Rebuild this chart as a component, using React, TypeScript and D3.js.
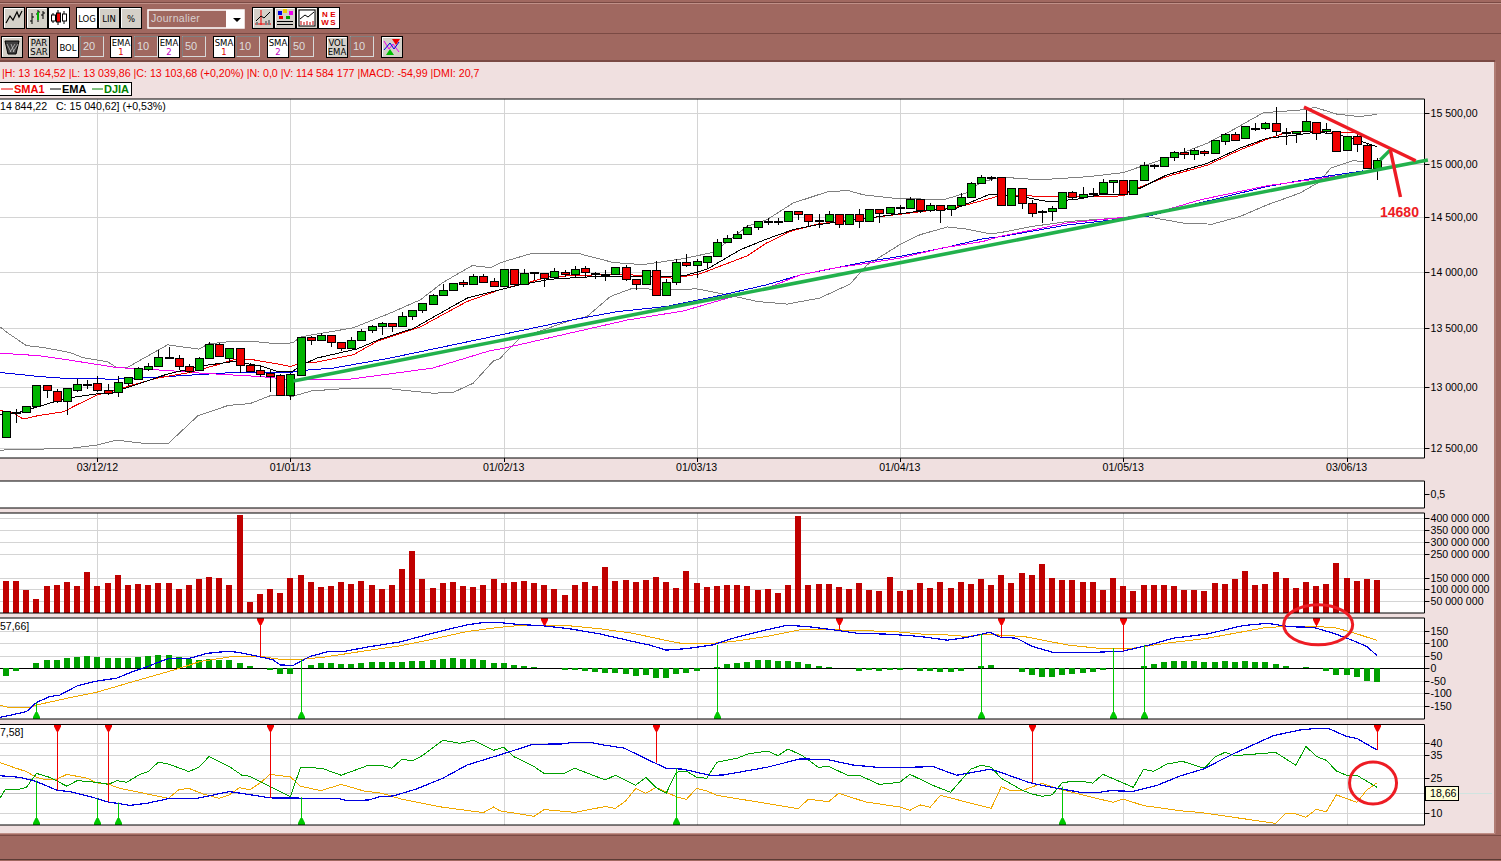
import React from 'react';
import * as d3 from 'd3';

// candles, one per trading day
const opens = [12592,12790,12792,12840,13015,12965,12882,12978,13021,13030,12973,12956,13030,13068,13152,13172,13250,13242,13172,13138,13240,13360,13247,13325,13188,13138,13115,13098,12936,13104,13421,13396,13438,13379,13333,13396,13485,13516,13542,13516,13605,13658,13715,13789,13834,13905,13887,13958,13913,13872,14023,13887,13987,13989,13949,13998,13975,14029,13984,13972,13981,14038,13931,13887,14011,13789,13904,14085,14062,14090,14140,14265,14300,14340,14405,14460,14460,14460,14553,14525,14460,14466,14525,14433,14525,14460,14572,14535,14586,14580,14670,14560,14615,14572,14615,14682,14818,14875,14874,14610,14770,14630,14544,14553,14582,14730,14686,14714,14720,14830,14846,14714,14846,14988,14978,15065,15115,15095,15127,15105,15219,15291,15252,15350,15350,15399,15312,15300,15317,15409,15320,15326,15134,15268,15183,14965];
const closes = [12800,12785,12840,13015,12975,12880,12990,13022,13025,12973,12948,13038,13080,13155,13172,13250,13245,13172,13135,13242,13360,13260,13325,13188,13135,13110,13090,12936,13105,13421,13396,13440,13384,13333,13396,13474,13516,13542,13516,13605,13655,13720,13789,13834,13900,13887,13958,13910,13869,14023,13887,13984,13993,13945,14002,13975,14026,13993,13989,13978,14038,13931,13887,14011,13789,13904,14085,14062,14094,14140,14268,14305,14340,14405,14460,14463,14463,14553,14525,14460,14470,14525,14433,14525,14460,14572,14535,14590,14590,14670,14560,14615,14565,14615,14682,14815,14880,14870,14610,14770,14630,14540,14553,14582,14730,14686,14714,14720,14827,14846,14714,14846,14988,14978,15065,15115,15095,15133,15105,15232,15291,15235,15370,15356,15399,15320,15309,15317,15418,15307,15340,15124,15268,15193,14965,15040.62];
const highs = [12800,12820,12840,13015,13015,12982,12990,13068,13058,13090,13025,13090,13080,13170,13197,13310,13335,13268,13190,13250,13378,13368,13325,13325,13202,13178,13147,13105,13120,13421,13435,13455,13438,13379,13421,13494,13530,13550,13542,13645,13655,13720,13800,13889,13900,13925,13975,13975,13945,14023,14023,14023,13993,13989,14029,14014,14050,14050,13997,14014,14045,14060,13931,14011,14096,13931,14112,14160,14110,14140,14295,14328,14365,14425,14460,14494,14490,14553,14553,14525,14525,14553,14525,14525,14572,14572,14572,14590,14612,14686,14670,14630,14615,14615,14720,14830,14895,14885,14874,14770,14770,14660,14565,14604,14730,14740,14780,14770,14855,14846,14846,14846,15019,15000,15065,15127,15155,15155,15135,15232,15307,15314,15370,15405,15412,15558,15356,15325,15529,15409,15405,15326,15268,15300,15195,15060];
const lows = [12592,12705,12792,12840,12905,12867,12765,12960,12983,12960,12935,12920,13008,13068,13135,13172,13235,13140,13118,13138,13240,13260,13213,13118,13130,13080,12960,12925,12888,13104,13358,13387,13341,13300,13333,13387,13460,13440,13468,13516,13570,13628,13715,13789,13834,13865,13887,13898,13869,13872,13887,13887,13925,13857,13949,13949,13954,13949,13931,13913,13981,13916,13836,13887,13789,13789,13880,14044,13945,14029,14140,14265,14300,14340,14380,14420,14420,14460,14475,14405,14396,14455,14393,14433,14397,14460,14447,14535,14540,14580,14535,14543,14440,14505,14615,14682,14818,14840,14610,14610,14570,14503,14447,14465,14582,14660,14663,14690,14720,14725,14714,14714,14846,14950,14978,15025,15047,15035,15077,15105,15180,15225,15252,15326,15333,15277,15186,15209,15317,15235,15291,15124,15134,15115,14955,14844.22];

// price overlays, as [day index, value]
const upperBand: [number, number][] = [[-0.6,13512],[0.2,13457],[2,13350],[3.7,13333],[6.3,13290],[7.6,13246],[10,13212],[10.9,13163],[11.9,13161],[15.9,13356],[19,13319],[19.9,13364],[22.4,13387],[24.2,13387],[26.7,13364],[28.2,13373],[29.1,13426],[34.2,13503],[37.8,13630],[40.8,13748],[43,13901],[45.9,14053],[47.7,14035],[48.6,14075],[49.6,14105],[51.9,14167],[53.6,14167],[56.5,14160],[59.8,14081],[62.7,14062],[66.4,14112],[69.6,14172],[73,14412],[74.9,14472],[77.5,14629],[80.8,14733],[82.9,14748],[84.4,14707],[87.3,14676],[92.3,14660],[94.6,14726],[95.9,14820],[96.9,14849],[97.9,14875],[101.8,14849],[106.7,14880],[110,14918],[111.7,14975],[115.3,15088],[118.3,15203],[120.8,15333],[123.8,15503],[127.4,15529],[128.9,15556],[131,15490],[133.3,15464],[135,15487]];
const lowerBand: [number, number][] = [[-0.6,12483],[6.3,12497],[9,12524],[10.9,12563],[13.5,12538],[16,12538],[18.9,12762],[21.9,12847],[24,12861],[26,12926],[28.3,12924],[30.1,12967],[33.9,12989],[37.8,12984],[42,12948],[44,12953],[46,13031],[48,13220],[48.6,13237],[50.6,13415],[55.7,13571],[57.2,13600],[59.5,13777],[61.7,13851],[65,13836],[68,13845],[71,13792],[74,13733],[76.9,13710],[80.1,13763],[83.1,13887],[84.8,14060],[88,14243],[90,14335],[92.7,14406],[94.6,14387],[96.9,14342],[97.9,14354],[101.1,14412],[104.5,14456],[107.7,14478],[112.3,14503],[116.3,14436],[118.8,14433],[121.5,14503],[124.2,14613],[127.4,14723],[129.4,14833],[130.4,14959],[132.6,15032],[134,15023]];
const ema50: [number, number][] = [[-0.6,13121],[3.3,13087],[6,13070],[10.9,13065],[15.9,13087],[22.4,13121],[28,13121],[29.1,13138],[32.2,13158],[37.8,13243],[48.6,13440],[55.7,13571],[60.2,13644],[65,13689],[69.6,13772],[74.9,13881],[78.2,13969],[84.8,14090],[88,14136],[92.3,14213],[96.2,14298],[97.9,14316],[104.5,14425],[112.6,14509],[117.6,14632],[124.2,14786],[129,14868],[133.6,14934]];
const sma50: [number, number][] = [[-0.6,13285],[3.3,13263],[6,13229],[10.9,13163],[15.9,13138],[19.1,13116],[25,13087],[28.3,13059],[33.9,13065],[42,13158],[47.7,13307],[48.6,13319],[61.2,13571],[66.7,13650],[71.6,13777],[74.5,13836],[78.2,13969],[81.4,14029],[84.8,14075],[88,14121],[92.3,14215],[96.2,14273],[97.9,14319],[104.5,14443],[112.6,14519],[117.6,14660],[124.2,14793],[130.7,14880],[134,14925]];
const sma10: [number, number][] = [[-0.6,12806],[0.7,12784],[1.7,12735],[3.3,12765],[5.6,12793],[7,12852],[9,12934],[10.2,12957],[12.5,13017],[14.9,13074],[18.1,13121],[20.8,13186],[22.4,13229],[24.3,13229],[26.3,13200],[28,13172],[29.1,13200],[30.6,13209],[34.2,13271],[36.5,13384],[40.8,13511],[45.4,13733],[48.6,13836],[53.6,13954],[57.8,13969],[61.7,13969],[65.7,13940],[68.3,13978],[73,14142],[74.9,14259],[77.2,14365],[79.9,14433],[84.8,14488],[89.7,14544],[94,14597],[97.6,14691],[99.9,14707],[101.5,14691],[104.5,14691],[108.7,14691],[110,14698],[111,14755],[114.3,14880],[118.3,14990],[121.5,15137],[124.2,15242],[126.1,15311],[128.9,15317],[133,15304]];
const ema10: [number, number][] = [[-0.6,12770],[1.1,12784],[2.7,12825],[6,12907],[9,12943],[10.5,12953],[13.2,13031],[15.9,13108],[19.4,13178],[22.4,13214],[25,13178],[26.7,13130],[28.2,13130],[29.2,13186],[30.6,13243],[34.6,13322],[36.8,13404],[40.1,13497],[45.4,13763],[48.6,13836],[50.6,13881],[53.6,13931],[57.8,13954],[63.4,13954],[66.7,13960],[69,14020],[72.3,14197],[74.9,14295],[77.5,14381],[79.9,14427],[84.8,14488],[89.7,14550],[93.6,14582],[96.9,14714],[97.6,14707],[99.9,14691],[102.8,14639],[105.5,14667],[107.7,14707],[109.7,14714],[111.7,14771],[114.3,14896],[118.3,15007],[121.5,15154],[124.2,15252],[126.4,15274],[129,15311],[131,15291],[133.5,15218],[135,15169]];

// hand-drawn trend lines and the target label, in [day index, price]
const supportLine: [number, number][] = [[28.3,13050],[140,15040]];
const resistanceLine: [number, number][] = [[127.8,15559],[138.8,15032]];
const bounceLine: [number, number][] = [[135.3,15040],[136.3,15137]];
const targetLine: [number, number][] = [[136.3,15137],[137.3,14686]];

// volume in millions
const volumes = [136,136,98,60,115,120,132,115,174,115,128,162,120,124,120,128,128,103,120,145,153,149,120,415,48,82,103,86,149,162,132,111,115,132,124,136,120,103,120,187,263,145,107,128,132,115,111,120,145,128,132,136,128,120,103,77,120,132,115,195,136,141,132,141,153,132,107,179,128,111,115,120,120,115,98,103,86,120,410,120,124,124,111,103,128,98,94,153,94,98,128,107,132,107,132,124,145,120,162,128,170,162,208,149,141,141,132,132,98,149,115,94,120,120,120,115,98,98,94,128,124,145,179,120,124,174,149,107,132,115,124,212,149,136,145,141];

// MACD pane
const macdHist = [-30,-13,0,21,34,34,42,46,50,46,42,42,42,46,50,54,54,46,38,34,38,34,34,21,9,0,-7,-23,-23,0,13,21,21,17,17,21,26,26,26,26,30,30,34,38,42,38,38,34,21,21,13,9,5,0,0,-7,-7,-11,-15,-19,-19,-23,-31,-27,-39,-39,-23,-19,-11,0,5,17,21,26,34,34,30,30,26,17,9,5,0,0,-11,-7,-11,-7,-7,0,-11,-11,-15,-15,-11,0,9,13,0,0,-15,-27,-35,-35,-27,-23,-19,-15,-7,0,0,0,9,17,26,30,30,30,26,26,30,26,30,26,26,17,9,0,5,0,-11,-27,-27,-35,-51,-54.99];
const macdLine: [number, number][] = [[-0.6,-198],[2,-175],[3,-138],[4.3,-114],[5.3,-108],[7,-71],[8.9,-52],[10.9,-40],[12.5,-13],[13.5,0],[15.2,27],[16.1,40],[18.1,40],[19.8,60],[22,69],[23.4,60],[25,46],[26.3,34],[27,13],[28.3,12],[29.9,47],[31.9,69],[33.5,69],[35.5,85],[38.8,106],[42,141],[45.4,175],[47,184],[48.6,184],[50.6,176],[52.9,171],[55.5,159],[58.5,138],[61.7,108],[63.4,93],[65,73],[67,79],[69.6,94],[71.6,121],[74.9,155],[76.9,173],[78.9,168],[81.4,155],[83.8,141],[87,137],[90,128],[92.7,113],[94.6,124],[96.9,145],[97.9,125],[99.5,121],[101.1,87],[103,65],[107.7,65],[110,69],[112.6,94],[114.9,121],[118.3,138],[121.8,172],[124.2,181],[126.4,167],[128.7,165],[130.7,141],[132.6,112],[134,87],[135,51]];
const macdSignal: [number, number][] = [[-0.6,-149],[0.4,-159],[2.4,-157],[3,-148],[6,-121],[8.9,-97],[12.5,-54],[16.8,-4],[19.1,27],[22.4,48],[25,48],[27,36],[29,36],[31.2,44],[35.5,71],[38.8,90],[42,117],[45.4,148],[48.6,165],[50.6,172],[55.2,172],[58.5,159],[61.7,141],[65,112],[66.4,101],[69,98],[71.6,108],[74.9,128],[78.2,155],[80.5,157],[83.4,152],[87.4,148],[90,138],[92.7,134],[94.6,128],[96.9,138],[97.9,133],[100.2,128],[104.5,94],[107.4,81],[111,81],[114.3,101],[118.3,121],[124.2,165],[127.4,169],[130.7,165],[132.6,144],[135,112]];
const macdSells: [number, number][] = [[25,46],[53,171],[82,155],[98,125],[110,69],[129,165]];
const macdBuys: [number, number][] = [[3,-138],[29,36],[70,94],[96,138],[109,81],[112,94]];

// DMI pane
const adxLine: [number, number][] = [[-0.6,26.1],[1.4,25.4],[3,23.6],[5,19.9],[6.3,19.3],[8.9,16.4],[10,14.9],[12.2,13.4],[13.9,14.3],[16.1,16.4],[18.8,16.4],[22,19.3],[23.4,18.4],[26,16.6],[32.6,16.4],[33.7,15.4],[35.7,15.7],[36.8,17.1],[38.1,17.4],[40.4,20.4],[43,25],[45.4,30.7],[48.6,35],[51.9,39.6],[54.7,39.7],[55.8,40.4],[57.5,40.4],[58.8,39.3],[60.9,37.9],[62.7,34],[65,29.3],[66.7,28.9],[69.3,26.3],[70.6,26.4],[74.9,29.7],[78.2,33.3],[80.8,33.1],[83.4,30.7],[85.8,29.7],[88.7,29.7],[91.3,30],[93.6,26.3],[96.9,28.9],[97.9,27.6],[100.8,23.1],[103.1,21],[105.8,19],[107.7,19],[108.7,19.7],[111,19.4],[113.3,21.9],[115.6,26],[117.9,29],[120.8,35.4],[124.8,43.3],[127.4,45.7],[129,46.4],[130.2,46.4],[132,42.9],[133,42.1],[135,37.1]];
const diPlus: [number, number][] = [[-0.6,16.4],[-0.1,20.1],[1,20],[2,21.1],[3,27.1],[4.3,25.4],[6,21.6],[7,24],[8.9,23.3],[10.1,22.4],[10.9,24],[11.9,23.3],[13.2,26.7],[14,27.9],[15,31.9],[16,31.1],[18,27.9],[19,29.7],[20,34.4],[22,30],[23.2,26.4],[24,25.9],[28,17.1],[29,29.7],[31.1,29.3],[33,26.3],[35.5,30.3],[37,30.6],[38,29.3],[39,33.3],[40,32.4],[41.1,35],[43,41.3],[44.7,40],[46,41.3],[48,37],[49,38.3],[50,34.3],[52,30],[53,27],[55,27.1],[56,29.3],[59,24.3],[60,26.3],[62,22],[63,25.4],[64,21],[65,18.6],[66,27.6],[67,28.1],[68,25.4],[69,25],[70,31.9],[72,33.6],[73,35.4],[75,36.7],[76,34.7],[77,37.6],[78.4,34.7],[80,29.7],[81,30.1],[82.8,26.4],[84,26.3],[86,22.4],[88,23.3],[89,26.7],[91.3,21.9],[93,19],[95,28.9],[96,30.6],[97,29.7],[98,25],[100,20],[101,18.3],[102,17.3],[103,17.9],[104,23.1],[105,23.7],[106,23.7],[107,22.9],[108,26.7],[111,21.1],[112,28.9],[113,28],[114.3,31.1],[115.8,32.3],[118,29.3],[119,34],[120,36.1],[121,34.7],[125,36.1],[127,30.6],[128,38.7],[129,34.4],[130,32.7],[131,28.1],[132,26.3],[133,26.3],[135,21.1]];
const diMinus: [number, number][] = [[-0.6,31.7],[1,29.3],[2,27.9],[3,25.4],[4,24.3],[5,24.6],[6,26.7],[8,25],[9,23],[10,22.6],[11.2,20.7],[13,19.1],[16,16.4],[17,20.1],[18,20.7],[19.4,18.3],[21,16.4],[22,17.9],[23,21],[24,20.1],[25,22.9],[26,26.7],[28,25.6],[29,21.6],[31,19.7],[33,22.4],[35.2,19.6],[37,18.6],[39,16],[41,14.3],[43,12.6],[47,10.3],[48,12.7],[48.6,11.1],[52,8.7],[53,11.6],[56,10.4],[59,12.9],[60,12.1],[61,15.3],[62,20.6],[63,18.6],[64,21.1],[66,17.1],[67,16],[68,20.7],[69,19.6],[70,17.7],[78,12],[79,16],[81,15],[82,18.6],[84.6,14.9],[88,12.7],[89,11.3],[90,13.6],[91,12.6],[92,17.7],[97,12.1],[98,21.4],[99,19.6],[100,19.6],[102,22.9],[104,20],[106,17.9],[109,14.7],[110,16.1],[112,13.3],[115.8,11],[117.5,10.4],[125,5.7],[126,10],[127,9.7],[128,8.3],[129,11.7],[130,10.7],[131,17.9],[133,14.7],[134,20],[135,23.1]];
const dmiSells: [number, number][] = [[5,19.9],[10,14.9],[26,16.6],[64,31.7],[101,23.1],[135,37.1]];
const dmiBuys: [number, number][] = [[3,24],[9,16.4],[11,14.6],[29,16.9],[66,29.3],[104,21.4]];

// tick labels
const priceTicks = [15500,15000,14500,14000,13500,13000,12500];
const volumeTicks = [400,350,300,250,150,100,50];
const macdTicks = [150,100,50,0,-50,-100,-150];
const dmiTicks = [40,35,25,10];
const dateIndex = [9,28,49,68,88,110,132];
const dateLabels = ['03/12/12','01/01/13','01/02/13','01/03/13','01/04/13','01/05/13','03/06/13'];

const statusText = '|H: 13 164,52 |L: 13 039,86 |C: 13 103,68 (+0,20%) |N: 0,0 |V: 114 584 177 |MACD: -54,99 |DMI: 20,7';

const FONT = '"Liberation Sans", Arial, sans-serif';
const BROWN = '#a06860';
const PINK = '#f0e0e0';
const GRID = '#d4d4d4';
const RIGHT = 1424.5;

const x = d3.scaleLinear().domain([0, 135]).range([6, 1377.1]);
const yPrice = d3.scaleLog().domain([12500, 15500]).range([448, 113]);
const yVol = d3.scaleLinear().domain([0, 400]).range([613.2, 518.3]);
const yMacd = d3.scaleLinear().domain([-150, 150]).range([705.5, 631]);
const yDmi = d3.scaleLinear().domain([10, 40]).range([813.3, 743.3]);

const fmtSpaced = (v: number, dec = '') => d3.format(',')(v).replace(/,/g, ' ') + dec;

function Series({ data, y, color, w = 1, crisp = true }: { data: [number, number][]; y: (v: number) => number; color: string; w?: number; crisp?: boolean }) {
    const gen = d3.line<[number, number]>().x(d => x(d[0])).y(d => y(d[1]));
    return <path d={gen(data) || ''} fill="none" stroke={color} strokeWidth={w} shapeRendering={crisp ? 'crispEdges' : undefined} />;
}

function Pane({ top, bottom, ticks, y, label, grid = true }: { top: number; bottom: number; ticks: number[]; y: (v: number) => number; label: (v: number) => string; grid?: boolean }) {
    return (
        <g>
            <rect x={0} y={top} width={RIGHT} height={bottom - top} fill="#fff" />
            {grid && dateIndex.map(i => <line key={i} x1={Math.round(x(i)) + 0.5} x2={Math.round(x(i)) + 0.5} y1={top} y2={bottom} stroke={GRID} />)}
            {ticks.map(t => (
                <g key={t}>
                    {grid && <line x1={0} x2={RIGHT} y1={Math.round(y(t)) + 0.5} y2={Math.round(y(t)) + 0.5} stroke={GRID} />}
                    <line x1={RIGHT} x2={RIGHT + 5} y1={Math.round(y(t)) + 0.5} y2={Math.round(y(t)) + 0.5} stroke="#000" />
                    <text x={RIGHT + 6} y={y(t) + 4} fontSize={10.6} fontFamily={FONT} fill="#000">{label(t)}</text>
                </g>
            ))}
        </g>
    );
}

function PaneFrame({ top, bottom }: { top: number; bottom: number }) {
    return <path d={`M0,${top}H${RIGHT}V${bottom}H0`} fill="none" stroke="#000" strokeWidth={1} />;
}

function SellMark({ i, y0, top }: { i: number; y0: number; top: number }) {
    const px = Math.round(x(i)) + 0.5;
    return (
        <g>
            <line x1={px} x2={px} y1={top} y2={y0} stroke="#f00000" />
            <path d={`M${px - 3.5},${top}H${px + 3.5}V${top + 2}L${px + 1},${top + 7}H${px - 1}L${px - 3.5},${top + 2}Z`} fill="#f00000" />
        </g>
    );
}

function BuyMark({ i, y0, bottom }: { i: number; y0: number; bottom: number }) {
    const px = Math.round(x(i)) + 0.5;
    return (
        <g>
            <line x1={px} x2={px} y1={bottom} y2={y0} stroke="#00c800" />
            <path d={`M${px - 3.5},${bottom}H${px + 3.5}V${bottom - 2}L${px + 1},${bottom - 7}H${px - 1}L${px - 3.5},${bottom - 2}Z`} fill="#00c800" />
        </g>
    );
}

function Btn({ bx, by, on, w = 21, h = 21, children }: { bx: number; by: number; on?: boolean; w?: number; h?: number; children?: React.ReactNode }) {
    return (
        <g transform={`translate(${bx},${by})`}>
            <rect x={0.5} y={0.5} width={w} height={h} fill={on ? '#fff' : '#d4d0c8'} stroke="#000" />
            <path d={`M1.5,${h - 0.5}V1.5H${w - 0.5}`} fill="none" stroke="#fff" />
            {children}
        </g>
    );
}

function BtnText({ lines, w = 21, colors }: { lines: string[]; w?: number; colors?: string[] }) {
    const one = lines.length === 1;
    return (
        <g fontFamily='"DejaVu Sans", sans-serif' fontSize={8.5} textAnchor="middle">
            {lines.map((s, i) => (
                <text key={i} x={w / 2 + 0.5} y={one ? 14.5 : 9.5 + i * 9} fill={colors ? colors[i] : '#000'}>{s}</text>
            ))}
        </g>
    );
}

function ValueBox({ bx, text }: { bx: number; text: string }) {
    return (
        <g>
            <rect x={bx + 0.5} y={36.5} width={23} height={20} fill={BROWN} stroke="#d8d8d8" />
            <path d={`M${bx + 0.5},56.5V36.5H${bx + 23.5}`} fill="none" stroke="#808080" />
            <text x={bx + 3} y={50} fontSize={11} fontFamily={FONT} fill="#ddd">{text}</text>
        </g>
    );
}

function Toolbar() {
    return (
        <g>
            <Btn bx={3} by={7}><path d="M3,16L7,9L10,13L14,5L16,10L19,4" fill="none" stroke="#000" strokeWidth={1.2} /></Btn>
            <Btn bx={26} by={7}><path d="M6,6V17M4,14H6M6,10H8M12,3V15M10,7H12M12,5H14M17,4V12M15,8H17M17,6H19" stroke="#000" fill="none" /><path d="M12,5V13" stroke="#00b000" strokeWidth={2} /></Btn>
            <Btn bx={48} by={7} on><path d="M5,6V16M10,3V18M16,4V17" stroke="#000" /><rect x={3.5} y={8} width={4} height={6} fill="#fff" stroke="#000" /><rect x={8.5} y={6} width={4} height={9} fill="#f00000" stroke="#000" /><rect x={14.5} y={7} width={4} height={7} fill="#fff" stroke="#000" /></Btn>
            <Btn bx={76} by={7} on><BtnText lines={['LOG']} /></Btn>
            <Btn bx={98} by={7}><BtnText lines={['LIN']} /></Btn>
            <Btn bx={120} by={7}><BtnText lines={['%']} /></Btn>
            <rect x={148} y={10} width={96} height={18} fill={BROWN} stroke="#fff" strokeWidth={1.5} />
            <rect x={226} y={10} width={18} height={18} fill="#fff" />
            <path d="M233,18H241L237,22Z" fill="#000" />
            <text x={151} y={22} fontSize={10.5} fontFamily={FONT} fill="#d8d0d0" letterSpacing={0.3}>Journalier</text>
            <Btn bx={252} by={7}><path d="M3,17H19M9,3V18" stroke="#f00000" /><path d="M4,14L9,9L12,11L18,5" fill="none" stroke="#000" /><path d="M5,15V18M14,14V18M17,13V18" stroke="#808080" strokeWidth={2} /></Btn>
            <Btn bx={274} by={7}><rect x={4} y={4} width={4} height={4} fill="#0000e0" /><rect x={9} y={2} width={4} height={4} fill="#f0d000" /><rect x={15} y={4} width={4} height={4} fill="#f000f0" /><rect x={5} y={9} width={4} height={3} fill="#f00000" /><rect x={12} y={9} width={4} height={3} fill="#00a000" /><path d="M3,14.5H19M3,17.5H19" stroke="#000" /></Btn>
            <Btn bx={296} by={7}><rect x={3} y={3} width={16} height={16} fill="#fff" stroke="#000" /><path d="M4,12L9,8L12,10L18,5" fill="none" stroke="#000" /><path d="M5,18V14M8,18V15M11,18V14M14,18V15M17,18V14" stroke="#c00000" /></Btn>
            <Btn bx={318} by={7} on><g fontFamily={FONT} fontSize={8} fontWeight="bold" fill="#e00000" textAnchor="middle"><text x={7} y={10}>N</text><text x={15} y={10}>E</text><text x={7} y={18}>W</text><text x={15} y={18}>S</text></g></Btn>

            <Btn bx={1} by={36}><path d="M4,5H18L15,18H7Z" fill="#404040" stroke="#000" /><path d="M6,8L10,16M10,8L13,16M14,8L9,16M17,8L12,16" stroke="#d0d0d0" strokeWidth={0.7} /></Btn>
            <Btn bx={28} by={36}><BtnText lines={['PAR', 'SAR']} /></Btn>
            <Btn bx={57} by={36} on><BtnText lines={['BOL']} /></Btn>
            <ValueBox bx={80} text="20" />
            <Btn bx={110} by={36} on><BtnText lines={['EMA', '1']} colors={['#000', '#e00000']} /></Btn>
            <ValueBox bx={134} text="10" />
            <Btn bx={158} by={36} on><BtnText lines={['EMA', '2']} colors={['#000', '#c000c0']} /></Btn>
            <ValueBox bx={182} text="50" />
            <Btn bx={213} by={36} on><BtnText lines={['SMA', '1']} colors={['#000', '#e00000']} /></Btn>
            <ValueBox bx={236} text="10" />
            <Btn bx={267} by={36} on><BtnText lines={['SMA', '2']} colors={['#000', '#c000c0']} /></Btn>
            <ValueBox bx={290} text="50" />
            <Btn bx={326} by={36}><BtnText lines={['VOL', 'EMA']} /></Btn>
            <ValueBox bx={350} text="10" />
            <Btn bx={381} by={36}><path d="M3,5L8,13L12,8L18,16" fill="none" stroke="#f000f0" /><path d="M3,14L9,7L13,13L18,6" fill="none" stroke="#0000e0" /><path d="M11,3H19L15,9Z" fill="#f00000" /><path d="M5,19H13L9,13Z" fill="#00c000" /></Btn>
        </g>
    );
}

export default function App() {
    const indices = d3.range(opens.length);
    const volBase = yVol(0);

    return (
        <svg width={1501} height={861} style={{ position: 'absolute', left: 0, top: 0, display: 'block' }}>
            <defs>
                <clipPath id="plot"><rect x={0} y={99} width={RIGHT} height={359} /></clipPath>
                <clipPath id="macd"><rect x={0} y={618} width={RIGHT} height={101} /></clipPath>
                <clipPath id="dmi"><rect x={0} y={724} width={RIGHT} height={101} /></clipPath>
            </defs>

            {/* window chrome */}
            <rect width={1501} height={861} fill={BROWN} />
            <path d="M0,2.5H1501M0,33.5H1501" stroke="#7a4a44" strokeWidth={1} />
            <path d="M0,3.5H1501" stroke="#c09088" strokeWidth={1} />
            <rect x={0} y={60} width={1495} height={2} fill="#7a4a44" />
            <rect x={0} y={62} width={1494} height={771} fill={PINK} />
            <path d="M0,833.5H1495V62" fill="none" stroke="#c09088" />
            <path d="M0,835.5H1501" stroke="#7a4a44" />
            <path d="M0,859.5H1501" stroke="#5a3a34" />
            <Toolbar />

            <text x={2} y={77} fontSize={10.65} fontFamily={FONT} fill="#f00000">{statusText}</text>

            <rect x={-1} y={82.5} width={132.5} height={13} fill="#fff" stroke="#000" />
            <g fontSize={11} fontFamily={FONT} fontWeight="bold">
                <line x1={1} x2={13} y1={89} y2={89} stroke="#f00000" />
                <text x={14} y={93} fill="#f00000">SMA1</text>
                <line x1={50} x2={61} y1={89} y2={89} stroke="#000" />
                <text x={62} y={93} fill="#000">EMA</text>
                <line x1={92} x2={103} y1={89} y2={89} stroke="#008000" />
                <text x={104} y={93} fill="#008000">DJIA</text>
            </g>

            {/* price pane */}
            <Pane top={99} bottom={458} ticks={priceTicks} y={yPrice} label={v => fmtSpaced(v, ',00')} />
            <g clipPath="url(#plot)">
                <Series data={upperBand} y={yPrice} color="#808080" />
                <Series data={lowerBand} y={yPrice} color="#808080" />
                <Series data={ema50} y={yPrice} color="#0000e0" />
                <Series data={sma50} y={yPrice} color="#f000f0" />
                <Series data={sma10} y={yPrice} color="#f00000" />
                <Series data={ema10} y={yPrice} color="#000" />
                {indices.map(i => {
                    const px = Math.round(x(i)) + 0.5;
                    const up = closes[i] >= opens[i];
                    const top = Math.round(yPrice(Math.max(opens[i], closes[i])));
                    const bot = Math.round(yPrice(Math.min(opens[i], closes[i])));
                    return (
                        <g key={i} shapeRendering="crispEdges">
                            <line x1={px} x2={px} y1={yPrice(highs[i])} y2={yPrice(lows[i])} stroke="#000" />
                            <rect x={px - 4} y={top + 0.5} width={8} height={Math.max(bot - top, 1)} fill={up ? '#00b400' : '#f00000'} stroke="#000" />
                        </g>
                    );
                })}
            </g>
            <PaneFrame top={99} bottom={458} />
            <text x={0} y={110} fontSize={10.6} fontFamily={FONT} fill="#000" style={{ whiteSpace: 'pre' }}>14 844,22   C: 15 040,62] (+0,53%)</text>

            {/* date axis */}
            {dateIndex.map((i, k) => (
                <g key={i}>
                    <line x1={Math.round(x(i)) + 0.5} x2={Math.round(x(i)) + 0.5} y1={458} y2={462} stroke="#000" />
                    <text x={x(i)} y={471} textAnchor="middle" fontSize={10.6} fontFamily={FONT} fill="#000">{dateLabels[k]}</text>
                </g>
            ))}

            {/* empty indicator strip */}
            <rect x={0} y={481} width={RIGHT} height={27} fill="#fff" />
            <PaneFrame top={481} bottom={508} />
            <line x1={RIGHT} x2={RIGHT + 5} y1={494.5} y2={494.5} stroke="#000" />
            <text x={RIGHT + 6} y={498} fontSize={10.6} fontFamily={FONT}>0,5</text>

            {/* volume pane */}
            <Pane top={513} bottom={613} ticks={volumeTicks} y={yVol} label={v => fmtSpaced(v) + ' 000 000'} />
            {volumes.map((v, i) => (
                <rect key={i} x={Math.round(x(i)) - 3} y={yVol(v)} width={6} height={volBase - yVol(v)} fill="#c00000" shapeRendering="crispEdges" />
            ))}
            <PaneFrame top={513} bottom={613} />

            {/* MACD pane */}
            <Pane top={618} bottom={719} ticks={macdTicks} y={yMacd} label={v => String(v)} />
            <line x1={0} x2={RIGHT} y1={Math.round(yMacd(0)) + 0.5} y2={Math.round(yMacd(0)) + 0.5} stroke="#000" />
            {macdHist.map((v, i) => v !== 0 && (
                <rect key={i} x={Math.round(x(i)) - 3} y={Math.min(yMacd(v), yMacd(0))} width={6} height={Math.abs(yMacd(v) - yMacd(0))} fill="#00a000" shapeRendering="crispEdges" />
            ))}
            <g clipPath="url(#macd)">
                <Series data={macdSignal} y={yMacd} color="#f0a800" />
                <Series data={macdLine} y={yMacd} color="#0000e0" w={1.2} />
                {macdSells.map(d => <SellMark key={d[0]} i={d[0]} y0={yMacd(d[1])} top={618} />)}
                {macdBuys.map(d => <BuyMark key={d[0]} i={d[0]} y0={yMacd(d[1])} bottom={719} />)}
            </g>
            <PaneFrame top={618} bottom={719} />
            <text x={0} y={630} fontSize={10.5} fontFamily={FONT}>57,66]</text>

            {/* DMI pane */}
            <Pane top={724.5} bottom={825} ticks={dmiTicks} y={yDmi} label={v => String(v)} />
            <line x1={0} x2={RIGHT} y1={793.5} y2={793.5} stroke="#c0c0c0" />
            <line x1={1458} x2={1492} y1={793.5} y2={793.5} stroke="#d0e4e0" />
            <g clipPath="url(#dmi)">
                <Series data={diMinus} y={yDmi} color="#f0a800" />
                <Series data={diPlus} y={yDmi} color="#00a000" />
                <Series data={adxLine} y={yDmi} color="#0000e0" w={1.2} />
                {dmiSells.map(d => <SellMark key={d[0]} i={d[0]} y0={yDmi(d[1])} top={724.5} />)}
                {dmiBuys.map(d => <BuyMark key={d[0]} i={d[0]} y0={yDmi(d[1])} bottom={825} />)}
            </g>
            <PaneFrame top={724.5} bottom={825} />
            <text x={0} y={736} fontSize={10.5} fontFamily={FONT}>7,58]</text>
            <rect x={1425.5} y={786.5} width={33} height={14} fill="#ffffd8" stroke="#000" />
            <text x={1430} y={797} fontSize={10.6} fontFamily={FONT}>18,66</text>

            {/* annotations drawn over the chart */}
            <Series data={supportLine} y={yPrice} color="#22b14c" w={3.6} crisp={false} />
            <Series data={resistanceLine} y={yPrice} color="#ed1c24" w={3.4} crisp={false} />
            <Series data={bounceLine} y={yPrice} color="#22b14c" w={3.4} crisp={false} />
            <Series data={targetLine} y={yPrice} color="#ed1c24" w={3.4} crisp={false} />
            <text x={x(137.3) - 1} y={yPrice(14680) + 19} textAnchor="middle" fontSize={14} fontWeight="bold" fontFamily={FONT} fill="#ed1c24">14680</text>
            <ellipse cx={x(129.2)} cy={yMacd(175)} rx={34.5} ry={20} fill="none" stroke="#ed1c24" strokeWidth={3} />
            <ellipse cx={x(134.6)} cy={yDmi(23)} rx={23.5} ry={21} fill="none" stroke="#ed1c24" strokeWidth={3} />
        </svg>
    );
}
